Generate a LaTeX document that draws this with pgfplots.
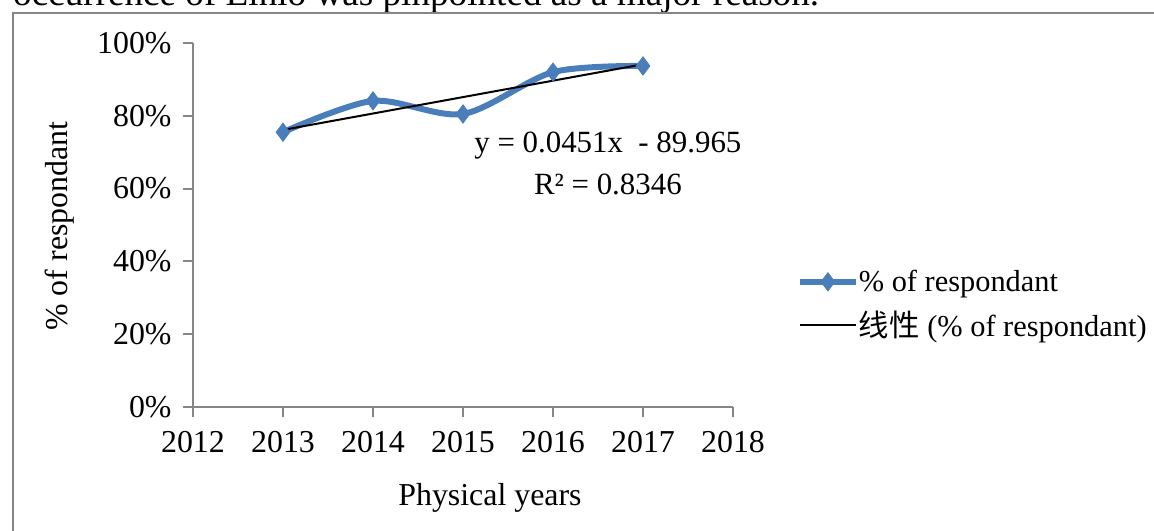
\documentclass[border=0pt]{standalone}
\usepackage{fontspec}
\setmainfont{Liberation Serif}
\newfontfamily\cjk{Noto Sans CJK SC}
\usepackage{pgfplots}
\pgfplotsset{compat=1.18}
\definecolor{serblue}{HTML}{4A7EBB}
\definecolor{axgray}{HTML}{868686}
\begin{document}
\begin{tikzpicture}
\useasboundingbox (0,0) rectangle (1154bp,-531bp);
\begin{scope}
\clip (0,0) rectangle (1154bp,-531bp);
\node[anchor=base west, inner sep=0, font=\fontsize{37.3}{40}\selectfont] at (13bp,-5bp) {occurrence of Elnio was pinpointed as a major reason.};
\end{scope}
\draw[axgray, line width=2bp] (13bp,-531bp) -- (13bp,-13bp) -- (1154bp,-13bp);
\begin{axis}[
  at={(193bp,-407bp)}, anchor=south west,
  scale only axis, width=540bp, height=364bp,
  xmin=2012, xmax=2018, ymin=0, ymax=1,
  axis lines=left,
  axis line style={draw=axgray, line width=2bp, -},
  tick style={draw=axgray, line width=2bp},
  tick align=outside, major tick length=10bp,
  xtick={2012,2013,2014,2015,2016,2017,2018},
  xticklabels={2012,2013,2014,2015,2016,2017,2018},
  ytick={0,0.2,0.4,0.6,0.8,1},
  yticklabels={0\%,20\%,40\%,60\%,80\%,100\%},
  ticklabel style={font=\fontsize{32}{38}\selectfont},
  xticklabel style={yshift=-11bp},
  yticklabel style={xshift=-8bp},
  xlabel={Physical years},
  ylabel={\% of respondant},
  label style={font=\fontsize{32}{38}\selectfont},
  xlabel style={at={(rel axis cs:0.55,-0.25)}, anchor=center},
  ylabel style={at={(rel axis cs:-0.246,0.497)}, anchor=center, rotate=0},
  clip=false,
  legend style={at={(rel axis cs:1.118,0.282)}, anchor=west, draw=none, fill=none,
    font=\fontsize{30.5}{37}\selectfont, row sep=18bp, inner sep=0bp,
    nodes={inner sep=0bp}},
  legend cell align=left,
  legend image code/.code={\draw[mark repeat=2,mark phase=2,#1] plot coordinates {(0bp,0bp) (28bp,0bp) (56bp,0bp)};},
]
\addplot[serblue, line width=6bp, smooth, tension=0.5, mark=diamond*, mark size=9bp, mark options={fill=serblue, draw=serblue, line width=1bp}]
  coordinates {(2013,0.755) (2014,0.841) (2015,0.805) (2016,0.920) (2017,0.937)};
\addlegendentry{\% of respondant}
\addplot[black, line width=2bp] coordinates {(2013,0.7612) (2017,0.9416)};
\addlegendentry{{\cjk 线性} (\% of respondant)}
\node[align=center, font=\fontsize{31}{42}\selectfont] at (axis cs:2016.61,0.67) {y = 0.0451x\ \ - 89.965\\R² = 0.8346};
\end{axis}
\end{tikzpicture}
\end{document}
